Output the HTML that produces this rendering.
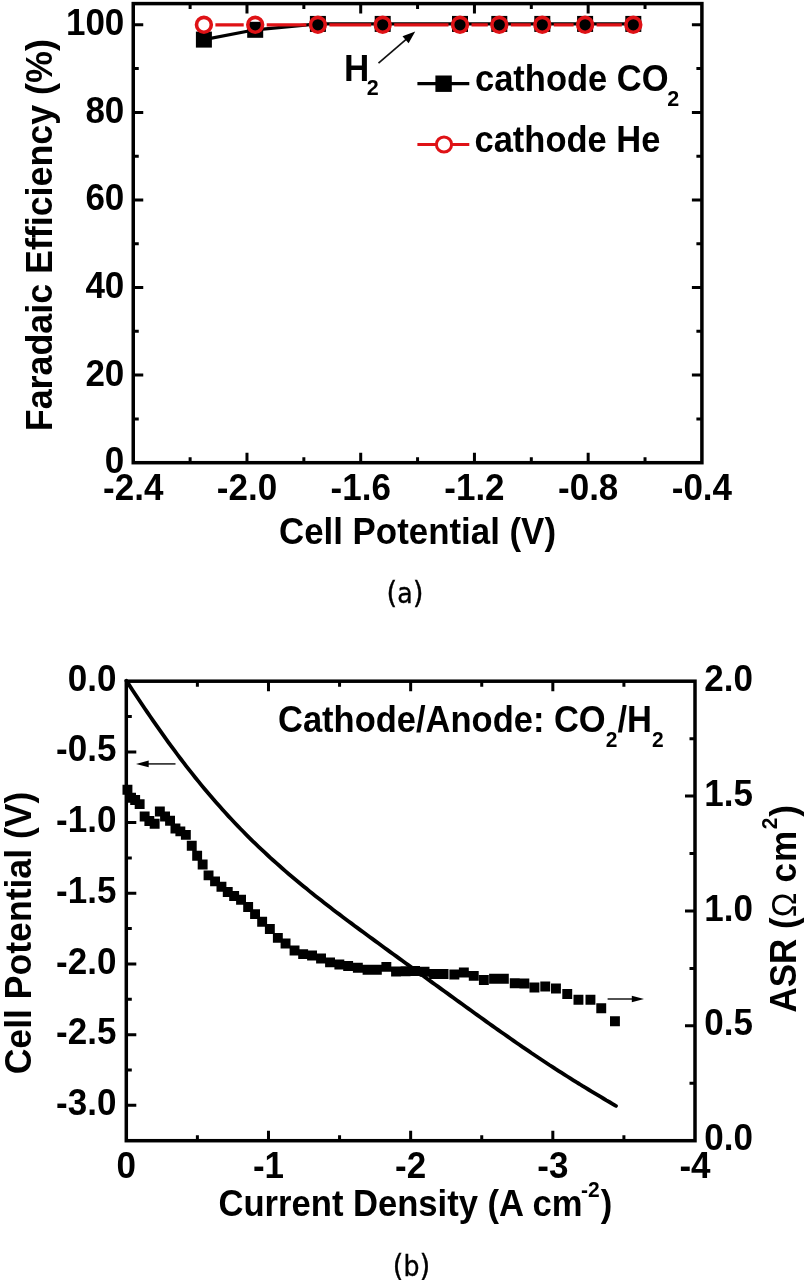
<!DOCTYPE html>
<html><head><meta charset="utf-8"><title>Figure</title>
<style>html,body{margin:0;padding:0;background:#fff;}svg{display:block;}</style></head>
<body><svg width="809" height="1280" viewBox="0 0 809 1280">
<rect width="809" height="1280" fill="#fff"/>
<path d="M190.12 462.70V457.20M190.12 3.60V9.10M246.98 462.70V452.70M246.98 3.60V13.60M303.85 462.70V457.20M303.85 3.60V9.10M360.71 462.70V452.70M360.71 3.60V13.60M417.57 462.70V457.20M417.57 3.60V9.10M474.44 462.70V452.70M474.44 3.60V13.60M531.31 462.70V457.20M531.31 3.60V9.10M588.17 462.70V452.70M588.17 3.60V13.60M645.03 462.70V457.20M645.03 3.60V9.10M133.25 418.91H138.75M701.90 418.91H696.40M133.25 375.12H143.25M701.90 375.12H691.90M133.25 331.33H138.75M701.90 331.33H696.40M133.25 287.54H143.25M701.90 287.54H691.90M133.25 243.75H138.75M701.90 243.75H696.40M133.25 199.96H143.25M701.90 199.96H691.90M133.25 156.17H138.75M701.90 156.17H696.40M133.25 112.38H143.25M701.90 112.38H691.90M133.25 68.59H138.75M701.90 68.59H696.40M133.25 24.80H143.25M701.90 24.80H691.90" stroke="#000" stroke-width="3.0" fill="none"/>
<rect x="133.25" y="3.6" width="568.65" height="459.09999999999997" fill="none" stroke="#000" stroke-width="3.5"/>
<text transform="translate(133.25,499.6) scale(1,1.04)" font-family="'Liberation Sans', Arial, Helvetica, sans-serif" font-weight="bold" font-size="35" text-anchor="middle">-2.4</text>
<text transform="translate(246.98,499.6) scale(1,1.04)" font-family="'Liberation Sans', Arial, Helvetica, sans-serif" font-weight="bold" font-size="35" text-anchor="middle">-2.0</text>
<text transform="translate(360.71,499.6) scale(1,1.04)" font-family="'Liberation Sans', Arial, Helvetica, sans-serif" font-weight="bold" font-size="35" text-anchor="middle">-1.6</text>
<text transform="translate(474.44,499.6) scale(1,1.04)" font-family="'Liberation Sans', Arial, Helvetica, sans-serif" font-weight="bold" font-size="35" text-anchor="middle">-1.2</text>
<text transform="translate(588.17,499.6) scale(1,1.04)" font-family="'Liberation Sans', Arial, Helvetica, sans-serif" font-weight="bold" font-size="35" text-anchor="middle">-0.8</text>
<text transform="translate(701.90,499.6) scale(1,1.04)" font-family="'Liberation Sans', Arial, Helvetica, sans-serif" font-weight="bold" font-size="35" text-anchor="middle">-0.4</text>
<text transform="translate(124.3,473.10) scale(1,1.04)" font-family="'Liberation Sans', Arial, Helvetica, sans-serif" font-weight="bold" font-size="35" text-anchor="end">0</text>
<text transform="translate(124.3,385.52) scale(1,1.04)" font-family="'Liberation Sans', Arial, Helvetica, sans-serif" font-weight="bold" font-size="35" text-anchor="end">20</text>
<text transform="translate(124.3,297.94) scale(1,1.04)" font-family="'Liberation Sans', Arial, Helvetica, sans-serif" font-weight="bold" font-size="35" text-anchor="end">40</text>
<text transform="translate(124.3,210.36) scale(1,1.04)" font-family="'Liberation Sans', Arial, Helvetica, sans-serif" font-weight="bold" font-size="35" text-anchor="end">60</text>
<text transform="translate(124.3,122.78) scale(1,1.04)" font-family="'Liberation Sans', Arial, Helvetica, sans-serif" font-weight="bold" font-size="35" text-anchor="end">80</text>
<text transform="translate(124.3,35.20) scale(1,1.04)" font-family="'Liberation Sans', Arial, Helvetica, sans-serif" font-weight="bold" font-size="35" text-anchor="end">100</text>
<text transform="translate(417.5,544) scale(1,1.04)" font-family="'Liberation Sans', Arial, Helvetica, sans-serif" font-weight="bold" font-size="35" text-anchor="middle" textLength="277" lengthAdjust="spacingAndGlyphs">Cell Potential (V)</text>
<text transform="translate(52,235.2) rotate(-90) scale(1,1.04)" x="0" y="0" font-family="'Liberation Sans', Arial, Helvetica, sans-serif" font-weight="bold" font-size="35.6" text-anchor="middle" textLength="392" lengthAdjust="spacingAndGlyphs">Faradaic Efficiency (%)</text>
<polyline points="203.90,39.60 255.20,29.80 317.90,23.92 382.70,23.92 460.00,23.92 499.30,23.92 542.30,23.92 585.10,23.92 633.30,23.92" fill="none" stroke="#000" stroke-width="3.2"/>
<rect x="195.90" y="31.60" width="16" height="16" fill="#000"/>
<rect x="247.20" y="21.80" width="16" height="16" fill="#000"/>
<rect x="309.90" y="15.92" width="16" height="16" fill="#000"/>
<rect x="374.70" y="15.92" width="16" height="16" fill="#000"/>
<rect x="452.00" y="15.92" width="16" height="16" fill="#000"/>
<rect x="491.30" y="15.92" width="16" height="16" fill="#000"/>
<rect x="534.30" y="15.92" width="16" height="16" fill="#000"/>
<rect x="577.10" y="15.92" width="16" height="16" fill="#000"/>
<rect x="625.30" y="15.92" width="16" height="16" fill="#000"/>
<path d="M215.40 24.80L243.70 24.80M266.70 24.80L306.40 24.80M329.40 24.80L371.20 24.80M394.20 24.80L448.50 24.80M471.50 24.80L487.80 24.80M510.80 24.80L530.80 24.80M553.80 24.80L573.60 24.80M596.60 24.80L621.80 24.80" fill="none" stroke="#df1216" stroke-width="3.3"/>
<circle cx="203.90" cy="24.80" r="7.4" fill="none" stroke="#df1216" stroke-width="3.6"/>
<circle cx="255.20" cy="24.80" r="7.4" fill="none" stroke="#df1216" stroke-width="3.6"/>
<circle cx="317.90" cy="24.80" r="7.4" fill="none" stroke="#df1216" stroke-width="3.6"/>
<circle cx="382.70" cy="24.80" r="7.4" fill="none" stroke="#df1216" stroke-width="3.6"/>
<circle cx="460.00" cy="24.80" r="7.4" fill="none" stroke="#df1216" stroke-width="3.6"/>
<circle cx="499.30" cy="24.80" r="7.4" fill="none" stroke="#df1216" stroke-width="3.6"/>
<circle cx="542.30" cy="24.80" r="7.4" fill="none" stroke="#df1216" stroke-width="3.6"/>
<circle cx="585.10" cy="24.80" r="7.4" fill="none" stroke="#df1216" stroke-width="3.6"/>
<circle cx="633.30" cy="24.80" r="7.4" fill="none" stroke="#df1216" stroke-width="3.6"/>
<text transform="translate(344,80.6) scale(1,1.04)" font-family="'Liberation Sans', Arial, Helvetica, sans-serif" font-weight="bold" font-size="35">H</text>
<text transform="translate(366.8,95.3) scale(1,1.04)" font-family="'Liberation Sans', Arial, Helvetica, sans-serif" font-weight="bold" font-size="21.5">2</text>
<line x1="378.5" y1="63.1" x2="407" y2="38.6" stroke="#111" stroke-width="1.7"/>
<polygon points="415.2,31.5 402.5,36.2 408.6,43.2" fill="#000"/>
<line x1="417.4" y1="83.7" x2="469.3" y2="83.7" stroke="#000" stroke-width="3.2"/>
<rect x="435.4" y="75.5" width="16.4" height="16.4" fill="#000"/>
<text transform="translate(475,91.1) scale(1,1.06)" font-family="'Liberation Sans', Arial, Helvetica, sans-serif" font-weight="bold" font-size="34.5">cathode CO</text>
<text transform="translate(667.3,106) scale(1,1.04)" font-family="'Liberation Sans', Arial, Helvetica, sans-serif" font-weight="bold" font-size="21.5">2</text>
<line x1="417.4" y1="144.5" x2="469.3" y2="144.5" stroke="#df1216" stroke-width="3.2"/>
<circle cx="444" cy="144.5" r="7.6" fill="#fff" stroke="#df1216" stroke-width="3"/>
<text transform="translate(474.5,151.5) scale(1,1.06)" font-family="'Liberation Sans', Arial, Helvetica, sans-serif" font-weight="bold" font-size="34.5">cathode He</text>
<text x="405" y="602.6" font-family="'DejaVu Sans Condensed', 'DejaVu Sans', sans-serif" stroke="#000" stroke-width="0.35" font-size="28" text-anchor="middle"><tspan font-size="30.5">(</tspan>a<tspan font-size="30.5">)</tspan></text>
<path d="M197.39 1140.70V1135.20M197.39 681.20V686.70M268.48 1140.70V1130.70M268.48 681.20V691.20M339.56 1140.70V1135.20M339.56 681.20V686.70M410.65 1140.70V1130.70M410.65 681.20V691.20M481.74 1140.70V1135.20M481.74 681.20V686.70M552.83 1140.70V1130.70M552.83 681.20V691.20M623.91 1140.70V1135.20M623.91 681.20V686.70M126.30 716.55H131.80M126.30 751.89H136.30M126.30 787.24H131.80M126.30 822.58H136.30M126.30 857.93H131.80M126.30 893.28H136.30M126.30 928.62H131.80M126.30 963.97H136.30M126.30 999.32H131.80M126.30 1034.66H136.30M126.30 1070.01H131.80M126.30 1105.35H136.30M695.00 1083.26H689.50M695.00 1025.83H685.00M695.00 968.39H689.50M695.00 910.95H685.00M695.00 853.51H689.50M695.00 796.08H685.00M695.00 738.64H689.50" stroke="#000" stroke-width="3.0" fill="none"/>
<rect x="126.3" y="681.2" width="568.70" height="459.5" fill="none" stroke="#000" stroke-width="3.5"/>
<text transform="translate(126.30,1177.8) scale(1,1.04)" font-family="'Liberation Sans', Arial, Helvetica, sans-serif" font-weight="bold" font-size="35" text-anchor="middle">0</text>
<text transform="translate(268.48,1177.8) scale(1,1.04)" font-family="'Liberation Sans', Arial, Helvetica, sans-serif" font-weight="bold" font-size="35" text-anchor="middle">-1</text>
<text transform="translate(410.65,1177.8) scale(1,1.04)" font-family="'Liberation Sans', Arial, Helvetica, sans-serif" font-weight="bold" font-size="35" text-anchor="middle">-2</text>
<text transform="translate(552.83,1177.8) scale(1,1.04)" font-family="'Liberation Sans', Arial, Helvetica, sans-serif" font-weight="bold" font-size="35" text-anchor="middle">-3</text>
<text transform="translate(695.00,1177.8) scale(1,1.04)" font-family="'Liberation Sans', Arial, Helvetica, sans-serif" font-weight="bold" font-size="35" text-anchor="middle">-4</text>
<text transform="translate(116.4,690.80) scale(1,1.04)" font-family="'Liberation Sans', Arial, Helvetica, sans-serif" font-weight="bold" font-size="35" text-anchor="end">0.0</text>
<text transform="translate(116.4,761.49) scale(1,1.04)" font-family="'Liberation Sans', Arial, Helvetica, sans-serif" font-weight="bold" font-size="35" text-anchor="end">-0.5</text>
<text transform="translate(116.4,832.18) scale(1,1.04)" font-family="'Liberation Sans', Arial, Helvetica, sans-serif" font-weight="bold" font-size="35" text-anchor="end">-1.0</text>
<text transform="translate(116.4,902.88) scale(1,1.04)" font-family="'Liberation Sans', Arial, Helvetica, sans-serif" font-weight="bold" font-size="35" text-anchor="end">-1.5</text>
<text transform="translate(116.4,973.57) scale(1,1.04)" font-family="'Liberation Sans', Arial, Helvetica, sans-serif" font-weight="bold" font-size="35" text-anchor="end">-2.0</text>
<text transform="translate(116.4,1044.26) scale(1,1.04)" font-family="'Liberation Sans', Arial, Helvetica, sans-serif" font-weight="bold" font-size="35" text-anchor="end">-2.5</text>
<text transform="translate(116.4,1114.95) scale(1,1.04)" font-family="'Liberation Sans', Arial, Helvetica, sans-serif" font-weight="bold" font-size="35" text-anchor="end">-3.0</text>
<text transform="translate(704.3,1150.30) scale(1,1.04)" font-family="'Liberation Sans', Arial, Helvetica, sans-serif" font-weight="bold" font-size="35">0.0</text>
<text transform="translate(704.3,1035.42) scale(1,1.04)" font-family="'Liberation Sans', Arial, Helvetica, sans-serif" font-weight="bold" font-size="35">0.5</text>
<text transform="translate(704.3,920.55) scale(1,1.04)" font-family="'Liberation Sans', Arial, Helvetica, sans-serif" font-weight="bold" font-size="35">1.0</text>
<text transform="translate(704.3,805.68) scale(1,1.04)" font-family="'Liberation Sans', Arial, Helvetica, sans-serif" font-weight="bold" font-size="35">1.5</text>
<text transform="translate(704.3,690.80) scale(1,1.04)" font-family="'Liberation Sans', Arial, Helvetica, sans-serif" font-weight="bold" font-size="35">2.0</text>
<text transform="translate(218.5,1216) scale(1,1.06)" font-family="'Liberation Sans', Arial, Helvetica, sans-serif" font-weight="bold" font-size="34.6">Current Density (A cm<tspan font-size="21" dx="-1.5" dy="-18.40">-2</tspan><tspan dx="1.2" dy="18.40">)</tspan></text>
<text transform="translate(30.5,933) rotate(-90) scale(1,1.04)" x="0" y="0" font-family="'Liberation Sans', Arial, Helvetica, sans-serif" font-weight="bold" font-size="35.6" text-anchor="middle">Cell Potential (V)</text>
<text transform="translate(796.3,1012.5) rotate(-90) scale(1,1.04)" x="0" y="0" font-family="'Liberation Sans', Arial, Helvetica, sans-serif" font-weight="bold" font-size="35">ASR (<tspan font-weight="normal" font-size="33">&#937;</tspan> <tspan dx="0.5">c</tspan><tspan dx="1">m</tspan><tspan font-size="21" dx="1.5" dy="-18.75">2</tspan><tspan dx="1" dy="18.75">)</tspan></text>
<text transform="translate(278,731.6) scale(1,1.06)" font-family="'Liberation Sans', Arial, Helvetica, sans-serif" font-weight="bold" font-size="34.5">Cathode/Anode: CO<tspan font-size="21" dy="14.15">2</tspan><tspan dy="-14.15">/H</tspan><tspan font-size="21" dy="14.15">2</tspan></text>
<polyline points="126.4,680.8 129.4,685.4 132.4,690.0 135.4,694.5 138.4,699.0 141.4,703.5 144.4,708.0 147.4,712.4 150.4,716.8 153.4,721.1 156.4,725.4 159.4,729.7 162.4,733.9 165.4,738.1 168.4,742.3 171.4,746.4 174.4,750.4 177.4,754.5 180.4,758.5 183.4,762.4 186.4,766.3 189.4,770.1 192.4,773.9 195.4,777.7 198.4,781.4 201.4,785.1 204.4,788.7 207.4,792.3 210.4,795.8 213.4,799.3 216.4,802.7 219.4,806.1 222.4,809.5 225.4,812.8 228.4,816.1 231.4,819.3 234.4,822.5 237.4,825.6 240.4,828.7 243.4,831.8 246.4,834.8 249.4,837.8 252.4,840.8 255.4,843.7 258.4,846.6 261.4,849.4 264.4,852.2 267.4,855.0 270.4,857.8 273.4,860.5 276.4,863.2 279.4,865.8 282.4,868.5 285.4,871.1 288.4,873.7 291.4,876.2 294.4,878.7 297.4,881.2 300.4,883.7 303.4,886.2 306.4,888.6 309.4,891.1 312.4,893.5 315.4,895.9 318.4,898.2 321.4,900.6 324.4,902.9 327.4,905.3 330.4,907.6 333.4,909.9 336.4,912.2 339.4,914.4 342.4,916.7 345.4,919.0 348.4,921.2 351.4,923.4 354.4,925.7 357.4,927.9 360.4,930.1 363.4,932.3 366.4,934.5 369.4,936.7 372.4,938.9 375.4,941.1 378.4,943.3 381.4,945.5 384.4,947.7 387.4,949.9 390.4,952.1 393.4,954.2 396.4,956.4 399.4,958.6 402.4,960.8 405.4,963.0 408.4,965.1 411.4,967.3 414.4,969.5 417.4,971.7 420.4,973.8 423.4,976.0 426.4,978.2 429.4,980.4 432.4,982.6 435.4,984.7 438.4,986.9 441.4,989.1 444.4,991.3 447.4,993.4 450.4,995.6 453.4,997.8 456.4,1000.0 459.4,1002.1 462.4,1004.3 465.4,1006.5 468.4,1008.6 471.4,1010.8 474.4,1013.0 477.4,1015.1 480.4,1017.3 483.4,1019.4 486.4,1021.6 489.4,1023.7 492.4,1025.9 495.4,1028.0 498.4,1030.1 501.4,1032.2 504.4,1034.3 507.4,1036.4 510.4,1038.5 513.4,1040.6 516.4,1042.7 519.4,1044.8 522.4,1046.9 525.4,1048.9 528.4,1050.9 531.4,1053.0 534.4,1055.0 537.4,1057.0 540.4,1059.0 543.4,1061.0 546.4,1063.0 549.4,1065.0 552.4,1066.9 555.4,1068.9 558.4,1070.8 561.4,1072.7 564.4,1074.6 567.4,1076.5 570.4,1078.4 573.4,1080.3 576.4,1082.2 579.4,1084.0 582.4,1085.9 585.4,1087.7 588.4,1089.5 591.4,1091.3 594.4,1093.1 597.4,1094.9 600.4,1096.7 603.4,1098.5 606.4,1100.3 609.4,1102.0 612.4,1103.8 615.4,1105.6 616.0,1105.9" fill="none" stroke="#000" stroke-width="3.8" stroke-linejoin="round" stroke-linecap="round"/>
<path d="M122.5 784.8h9.9v9.9h-9.9zM126.1 792.8h9.9v9.9h-9.9zM130.2 795.0h9.9v9.9h-9.9zM134.7 799.2h9.9v9.9h-9.9zM139.7 811.5h9.9v9.9h-9.9zM144.4 816.1h9.9v9.9h-9.9zM149.7 818.8h9.9v9.9h-9.9zM154.9 806.6h9.9v9.9h-9.9zM160.1 811.5h9.9v9.9h-9.9zM165.1 815.8h9.9v9.9h-9.9zM170.5 823.5h9.9v9.9h-9.9zM175.4 826.4h9.9v9.9h-9.9zM180.9 829.9h9.9v9.9h-9.9zM186.8 840.8h9.9v9.9h-9.9zM192.2 850.8h9.9v9.9h-9.9zM197.7 859.6h9.9v9.9h-9.9zM203.6 870.4h9.9v9.9h-9.9zM210.1 876.4h9.9v9.9h-9.9zM216.5 881.8h9.9v9.9h-9.9zM222.8 887.1h9.9v9.9h-9.9zM229.2 891.1h9.9v9.9h-9.9zM236.1 894.8h9.9v9.9h-9.9zM243.2 902.0h9.9v9.9h-9.9zM250.1 909.2h9.9v9.9h-9.9zM257.2 916.8h9.9v9.9h-9.9zM264.9 924.1h9.9v9.9h-9.9zM272.9 932.9h9.9v9.9h-9.9zM280.6 938.5h9.9v9.9h-9.9zM289.6 945.5h9.9v9.9h-9.9zM298.2 949.2h9.9v9.9h-9.9zM307.1 950.6h9.9v9.9h-9.9zM316.1 953.5h9.9v9.9h-9.9zM325.1 957.4h9.9v9.9h-9.9zM334.4 959.6h9.9v9.9h-9.9zM343.2 961.1h9.9v9.9h-9.9zM352.9 962.8h9.9v9.9h-9.9zM362.6 964.8h9.9v9.9h-9.9zM371.9 964.8h9.9v9.9h-9.9zM381.4 961.9h9.9v9.9h-9.9zM391.1 966.5h9.9v9.9h-9.9zM400.6 966.3h9.9v9.9h-9.9zM410.1 966.0h9.9v9.9h-9.9zM419.6 966.8h9.9v9.9h-9.9zM429.1 969.0h9.9v9.9h-9.9zM438.6 969.0h9.9v9.9h-9.9zM449.4 969.6h9.9v9.9h-9.9zM458.9 967.6h9.9v9.9h-9.9zM468.8 970.9h9.9v9.9h-9.9zM478.9 975.0h9.9v9.9h-9.9zM489.1 973.8h9.9v9.9h-9.9zM498.9 973.8h9.9v9.9h-9.9zM509.8 978.3h9.9v9.9h-9.9zM519.4 978.5h9.9v9.9h-9.9zM529.5 982.5h9.9v9.9h-9.9zM540.3 981.5h9.9v9.9h-9.9zM551.0 983.5h9.9v9.9h-9.9zM562.3 989.0h9.9v9.9h-9.9zM573.5 994.8h9.9v9.9h-9.9zM585.5 994.8h9.9v9.9h-9.9zM596.3 1003.3h9.9v9.9h-9.9zM610.0 1016.3h9.9v9.9h-9.9z" fill="#000"/>
<line x1="175.5" y1="763.9" x2="146" y2="763.9" stroke="#333" stroke-width="1.7"/>
<polygon points="136,763.9 148.7,760.5 148.7,767.3" fill="#000"/>
<line x1="607.6" y1="999" x2="634" y2="999" stroke="#333" stroke-width="1.7"/>
<polygon points="644,999 631.8,995.8 631.8,1002.2" fill="#000"/>
<text x="411.5" y="1275.5" font-family="'DejaVu Sans Condensed', 'DejaVu Sans', sans-serif" stroke="#000" stroke-width="0.35" font-size="28" text-anchor="middle"><tspan font-size="30.5">(</tspan>b<tspan font-size="30.5">)</tspan></text>
</svg></body></html>
